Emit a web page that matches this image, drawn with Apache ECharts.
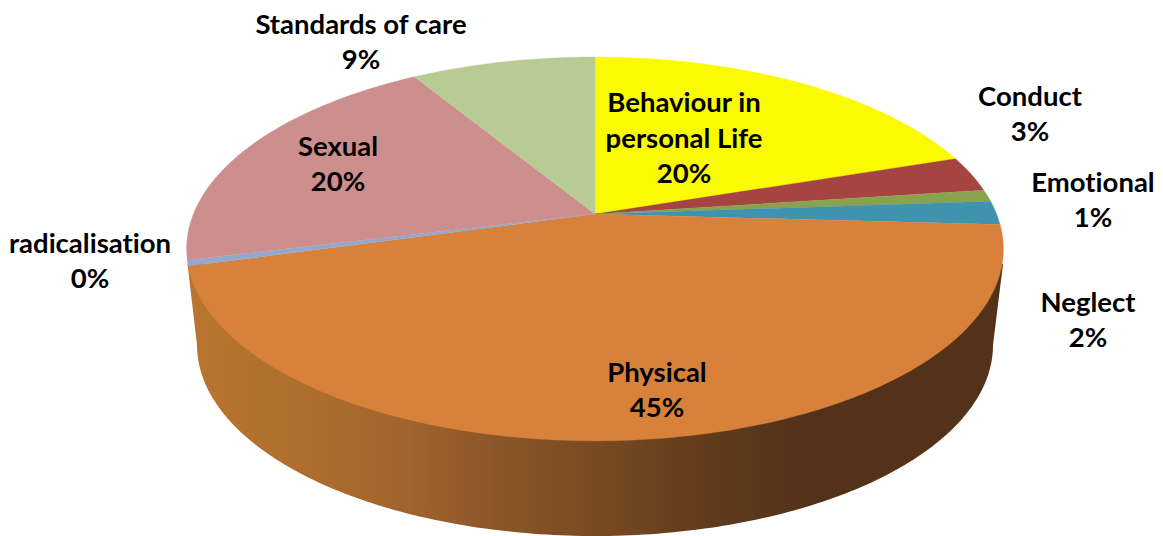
<!DOCTYPE html>
<html><head><meta charset="utf-8">
<style>html,body{margin:0;padding:0;background:#fff}#c{width:1163px;height:536px}#c svg text{font-variant-ligatures:none !important;font-feature-settings:"liga" 0,"dlig" 0,"clig" 0 !important}</style>
<script src="https://cdn.jsdelivr.net/npm/echarts@6/dist/echarts.min.js"></script>
</head><body><div id="c"></div>
<script>
// ---- data ----
const categories = ['Behaviour in\npersonal Life','Conduct','Emotional','Neglect','Physical','radicalisation','Sexual','Standards of care'];
const values = [19.9, 3, 1, 2, 44.8, 0.48, 20.12, 8.7];
const wallCategory = 'Physical';
// ---- styles ----
const sliceColors = ['#FAFA00','#A54441','#88A24E','#3F93AE','#D8813B','#92A9CF','#CD8F8D','#B9CB95'];
// ---- layout: perspective disc ----
const APEX = {x:595, y:214}, A = 401.6, C = 185.6, K = 0.182;
const BASE = {x:595, y:345, rx:398, ry:191};
const WALL_TOP = {y:264, left:187.5, right:1003};
const labelAnchors = [[684,137],[1030,113],[1093,199],[1088,319],[657,389],[90,260],[338,163],[361,41]];

const total = values.reduce((a,b)=>a+b,0);
function project(frac){
  const t = frac*2*Math.PI, X = Math.sin(t), Y = -Math.cos(t), w = 1-K*Y;
  return [APEX.x + A*X/w, APEX.y + C*Y/w];
}
function startFrac(i){ let s=0; for(let j=0;j<i;j++) s+=values[j]; return s/total; }

function renderSlice(params, api){
  const i = params.dataIndex, a = startFrac(i), b = a + api.value(0)/total;
  const n = Math.max(2, Math.ceil((b-a)*360));
  const pts = [[APEX.x,APEX.y]];
  for(let k=0;k<=n;k++) pts.push(project(a+(b-a)*k/n));
  return {type:'polygon', shape:{points:pts}, style:{fill:sliceColors[i], stroke:sliceColors[i], lineWidth:0.3}};
}
function renderWall(){
  const pts = [[WALL_TOP.left,WALL_TOP.y]];
  for(let k=0;k<=180;k++){
    const t = Math.PI - k*Math.PI/180;
    pts.push([BASE.x+BASE.rx*Math.cos(t), BASE.y+BASE.ry*Math.sin(t)]);
  }
  pts.push([WALL_TOP.right,WALL_TOP.y]);
  return {type:'polygon', shape:{points:pts}, style:{
    fill:new echarts.graphic.LinearGradient(0,0,1,0,[
      {offset:0,color:'#BA7630'},{offset:0.14,color:'#AF6E2E'},{offset:0.26,color:'#A2652D'},
      {offset:0.38,color:'#8A5629'},{offset:0.5,color:'#794A22'},{offset:0.63,color:'#623C1C'},
      {offset:0.75,color:'#54321A'},{offset:1,color:'#54321A'}])
  }};
}
function renderLabel(params, api){
  const i = params.dataIndex;
  return {type:'text', style:{
    x:labelAnchors[i][0], y:labelAnchors[i][1],
    text:categories[i]+'\n'+Math.round(api.value(0)/total*100)+'%',
    fill:'#000', font:'bold 27.5px Lato', lineHeight:35.5, align:'center', verticalAlign:'middle'
  }};
}
const chart = echarts.init(document.getElementById('c'), null, {renderer:'svg'});
chart.setOption({
  animation:false, backgroundColor:'#fff',
  series:[
    {type:'custom', name:'wall', coordinateSystem:'none', z:1, silent:true,
     data:[values[categories.indexOf(wallCategory)]], renderItem:renderWall},
    {type:'custom', name:'slices', coordinateSystem:'none', z:2, silent:true,
     data:values.map((v,i)=>({name:categories[i], value:[v]})), renderItem:renderSlice},
    {type:'custom', name:'labels', coordinateSystem:'none', z:3, silent:true,
     data:values.map((v,i)=>({name:categories[i], value:[v]})), renderItem:renderLabel}
  ]
});
</script></body></html>
